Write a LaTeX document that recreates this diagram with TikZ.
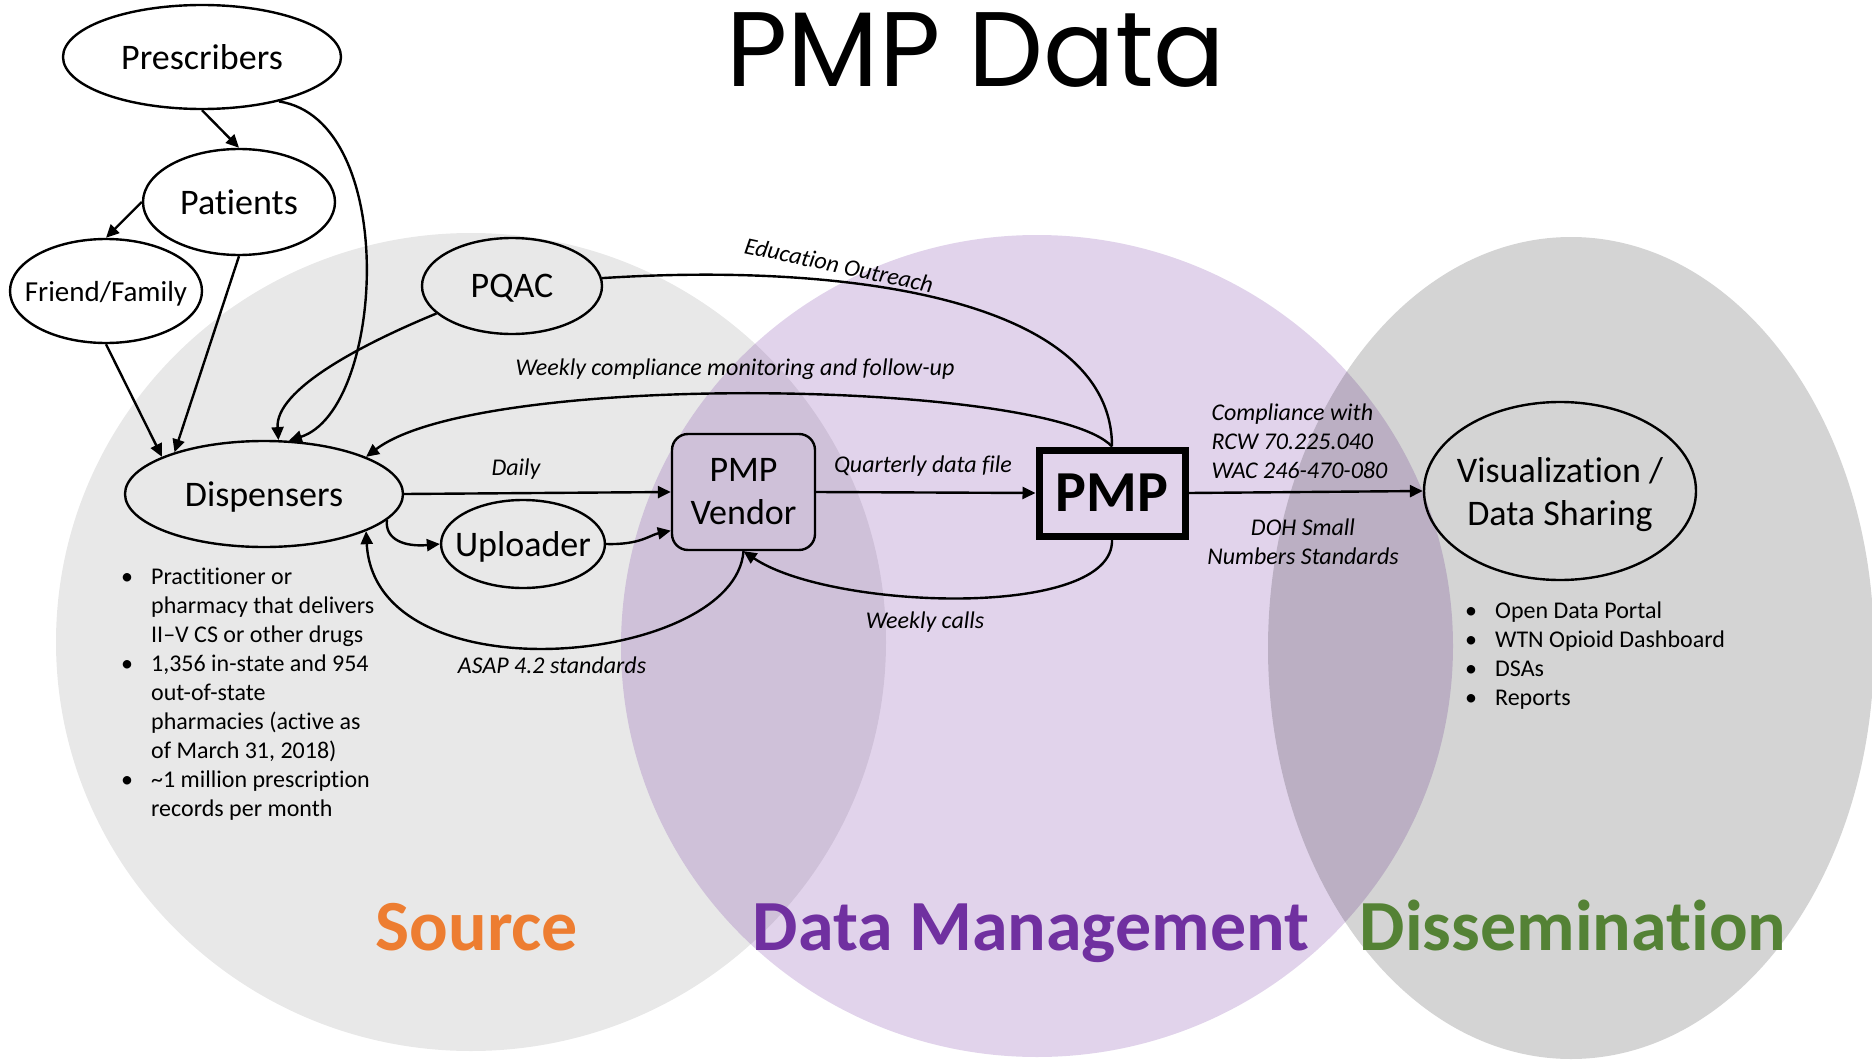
\documentclass[tikz,border=0pt]{standalone}
\usepackage{fontspec}
\setmainfont{Carlito}[Ligatures={TeX,NoCommon}]
\newfontfamily\titlefont{Poppins}
\usepackage{tikz}
\usepackage{xcolor}
\usetikzlibrary{shapes,arrows.meta}

\definecolor{dmpurple}{HTML}{7030A0}
\definecolor{srcorange}{HTML}{ED7D31}
\definecolor{dissgreen}{HTML}{548235}

\begin{document}
\begin{tikzpicture}[x=1pt,y=-1pt,line width=2.4pt,>={Triangle[length=13pt,width=12pt]}]%[scale=2.5]
\useasboundingbox (0,0) rectangle (1872,1062);
\fill[black,fill opacity=0.09] (471,642) ellipse [x radius=415,y radius=409];
\fill[dmpurple,fill opacity=0.21] (1037,646) ellipse [x radius=416,y radius=411];
\fill[black,fill opacity=0.17] (1571,648) ellipse [x radius=303,y radius=411];

\draw node[font=\titlefont\fontsize{106}{110}\selectfont,anchor=base] (title) at (976,87) {PMP Data};

\tikzstyle{oval}=[draw,shape=ellipse,inner sep=0pt,text depth=0pt,align=center,font=\fontsize{36}{43}\selectfont]
\tikzstyle{lbl}=[align=center,font=\itshape\fontsize{24}{29}\selectfont]
\tikzstyle{notes}=[anchor=base west,inner sep=0pt,font=\fontsize{24}{29}\selectfont]
\tikzstyle{area}=[anchor=base,font=\bfseries\fontsize{72}{80}\selectfont]

\draw node[oval,minimum width=278,minimum height=104] (presc) at (202,57) {Prescribers};
\draw node[oval,minimum width=192,minimum height=106] (patients) at (239,202) {Patients};
\draw node[oval,minimum width=192,minimum height=104,inner xsep=-14pt,font=\fontsize{29}{35}\selectfont] (ff) at (106,291) {Friend/Family};
\draw node[oval,minimum width=180,minimum height=96] (pqac) at (512,286) {PQAC};
\draw node[oval,minimum width=278,minimum height=106] (disp) at (264,494) {Dispensers};
\draw node[oval,minimum width=162,minimum height=88,inner xsep=-10pt] (upl) at (523,544) {Uploader};
\draw node[draw,rounded corners=16pt,minimum width=143,minimum height=116,inner sep=0pt,align=center,font=\fontsize{36}{43}\selectfont] (vendor) at (743.5,492) {PMP\\Vendor};
\draw node[draw,line width=7pt,minimum width=146,minimum height=86,inner sep=0pt,font=\bfseries\fontsize{58}{60}\selectfont] (pmp) at (1112,493) {PMP};
\draw node[oval,minimum width=272,minimum height=178,inner xsep=-8pt] (vis) at (1560,491) {Visualization /\\Data Sharing};

\draw[->] (presc.south) -- (patients.north);
\draw[->] (patients.west) -- (ff.north);
\draw[->] (ff.south) -- (disp.160);
\draw[->] (patients.south) -- (disp.155);
\draw[->] (presc.-30) .. controls (400,120) and (385,410) .. (disp.65);
\draw[->] (pqac.200) .. controls (360,345) and (275,390) .. (disp.75);
\draw (pqac.5) .. controls (850,262) and (1112,300) .. (pmp.north);
\draw[->] (pmp.north) .. controls (1050,380) and (480,370) .. (disp.20);
\draw[->] (disp.east) -- (vendor.west);
\draw[->] (disp.-12) .. controls (385,540) and (405,547) .. (upl.west);
\draw[->] (upl.east) .. controls (640,545) and (650,535) .. (vendor.208);
\draw[->] (vendor.east) -- (pmp.west);
\draw[->] (pmp.south) .. controls (1115,620) and (830,610) .. (vendor.south);
\draw[->] (vendor.south) .. controls (735,665) and (375,700) .. (disp.-20);
\draw[->] (pmp.east) -- (vis.west);

\node[lbl] (daily) at (516,469) {Daily};
\node[lbl] (quart) at (923,466) {Quarterly data file};
\node[lbl,rotate=-12] (edu) at (839,265) {Education Outreach};
\node[lbl] (wcm) at (735,369) {Weekly compliance monitoring and follow-up};
\node[lbl] (wcalls) at (925,622) {Weekly calls};
\node[lbl] (asap) at (552,665) {ASAP 4.2 standards};
\node[lbl,align=left,anchor=west] (rcw) at (1207,441) {Compliance with\\RCW 70.225.040\\WAC 246-470-080};
\node[lbl] (doh) at (1303,542) {DOH Small\\Numbers Standards};

\node[notes] (dispnotes) at (120,584) {\begin{tabular}[t]{@{}l@{\hspace{18pt}}l@{}}
\textbullet & Practitioner or\\ & pharmacy that delivers\\ & II--V CS or other drugs\\
\textbullet & 1,356 in-state and 954\\ & out-of-state\\ & pharmacies (active as\\ & of March 31, 2018)\\
\textbullet & \textasciitilde1 million prescription\\ & records per month\end{tabular}};
\node[notes] (visnotes) at (1464,618) {\begin{tabular}[t]{@{}l@{\hspace{18pt}}l@{}}
\textbullet & Open Data Portal\\ \textbullet & WTN Opioid Dashboard\\ \textbullet & DSAs\\ \textbullet & Reports\end{tabular}};

\node[area,text=srcorange] (src) at (477,950) {Source};
\node[area,text=dmpurple] (dm) at (1031,950) {Data Management};
\node[area,text=dissgreen] (diss) at (1573,950) {Dissemination};
\end{tikzpicture}
\end{document}
